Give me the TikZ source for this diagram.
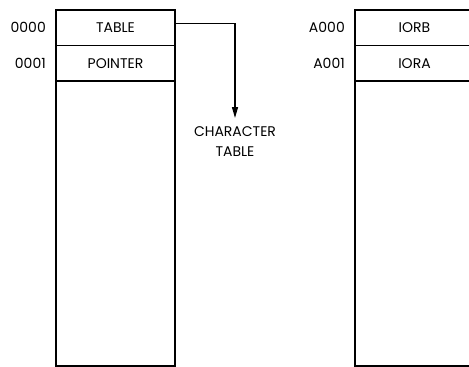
\documentclass[tikz,border=0pt]{standalone}
\usepackage{fontspec}
\setmainfont{Poppins}
\usepackage{tikz}
\usetikzlibrary{positioning,arrows.meta}

\begin{document}
\begin{tikzpicture}[
    x=1pt, y=-1pt,
    font=\fontsize{14}{20}\selectfont,
    cell/.style={draw, line width=1.3pt, minimum width=119pt, minimum height=35.5pt, inner sep=0pt, outer sep=0pt},
    addr/.style={anchor=east, inner sep=0pt},
    arrow/.style={-{Triangle[length=11pt, width=6pt]}, line width=1.4pt}
]
\useasboundingbox (0,0) rectangle (469,367);
\clip (0,0) rectangle (469,367);

% left memory block
\node[cell, anchor=north west] (table) at (56,10) {TABLE};
\node[cell, below=0pt of table] (pointer) {POINTER};
\node[cell, below=0pt of pointer, minimum height=285pt] (lrest) {};
\node[addr, left=10pt of table] (a0000) {0000};
\node[addr, left=10pt of pointer] (a0001) {0001};

% right memory block (runs off the page)
\node[cell, anchor=north west] (iorb) at (355,10) {IORB};
\node[cell, below=0pt of iorb] (iora) {IORA};
\node[cell, below=0pt of iora, minimum height=285pt] (rrest) {};
\node[addr, left=10pt of iorb] (aA000) {A000};
\node[addr, left=10pt of iora] (aA001) {A001};

% character table pointer
\node[align=center, inner xsep=2pt, inner ysep=8pt, anchor=north] (chartab) at (235,118) {CHARACTER\\TABLE};
\draw[arrow] ([yshift=4pt]table.east) -| (chartab.north);
\end{tikzpicture}
\end{document}
